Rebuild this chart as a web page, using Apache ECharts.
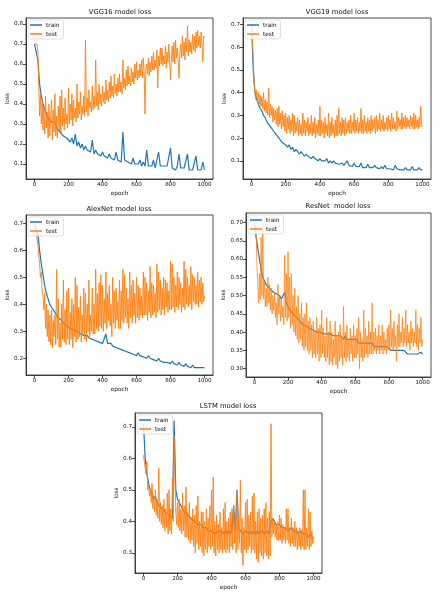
<!DOCTYPE html>
<html><head><meta charset="utf-8">
<script src="https://cdn.jsdelivr.net/npm/echarts@6/dist/echarts.min.js"></script>
<style>html,body{margin:0;padding:0;background:#fff}#c{width:440px;height:600px}</style>
</head><body><div id="c"></div>
<script>
// train series sampled every 10 epochs, test series every 5 epochs
const epochs10 = [0,10,20,30,40,50,60,70,80,90,100,110,120,130,140,150,160,170,180,190,200,210,220,230,240,250,260,270,280,290,300,310,320,330,340,350,360,370,380,390,400,410,420,430,440,450,460,470,480,490,500,510,520,530,540,550,560,570,580,590,600,610,620,630,640,650,660,670,680,690,700,710,720,730,740,750,760,770,780,790,800,810,820,830,840,850,860,870,880,890,900,910,920,930,940,950,960,970,980,990,1000];
const epochs5 = [0,5,10,15,20,25,30,35,40,45,50,55,60,65,70,75,80,85,90,95,100,105,110,115,120,125,130,135,140,145,150,155,160,165,170,175,180,185,190,195,200,205,210,215,220,225,230,235,240,245,250,255,260,265,270,275,280,285,290,295,300,305,310,315,320,325,330,335,340,345,350,355,360,365,370,375,380,385,390,395,400,405,410,415,420,425,430,435,440,445,450,455,460,465,470,475,480,485,490,495,500,505,510,515,520,525,530,535,540,545,550,555,560,565,570,575,580,585,590,595,600,605,610,615,620,625,630,635,640,645,650,655,660,665,670,675,680,685,690,695,700,705,710,715,720,725,730,735,740,745,750,755,760,765,770,775,780,785,790,795,800,805,810,815,820,825,830,835,840,845,850,855,860,865,870,875,880,885,890,895,900,905,910,915,920,925,930,935,940,945,950,955,960,965,970,975,980,985,990,995,1000];
const xTicks = [0,200,400,600,800,1000];

const vgg16Train = [0.70,0.69,0.62,0.50,0.44,0.40,0.37,0.36,0.33,0.34,0.31,0.30,0.31,0.28,0.29,0.26,0.27,0.24,0.25,0.23,0.24,0.21,0.23,0.20,0.25,0.19,0.21,0.18,0.20,0.17,0.19,0.17,0.18,0.16,0.22,0.15,0.17,0.15,0.16,0.14,0.16,0.14,0.15,0.13,0.15,0.13,0.14,0.12,0.16,0.12,0.13,0.11,0.26,0.12,0.12,0.11,0.12,0.10,0.13,0.10,0.11,0.10,0.12,0.09,0.11,0.09,0.17,0.09,0.10,0.09,0.12,0.08,0.09,0.16,0.09,0.08,0.09,0.08,0.09,0.08,0.18,0.08,0.08,0.07,0.09,0.15,0.08,0.07,0.08,0.07,0.15,0.07,0.08,0.07,0.08,0.14,0.07,0.08,0.07,0.11,0.07];
const vgg16Test = [
0.70,0.70,0.69,0.70,0.66,0.50,0.34,0.45,0.30,0.41,
0.27,0.38,0.25,0.44,0.28,0.36,0.23,0.40,0.24,0.33,
0.42,0.22,0.37,0.26,0.45,0.24,0.34,0.23,0.39,0.27,
0.44,0.25,0.47,0.29,0.38,0.27,0.43,0.30,0.35,0.28,
0.48,0.30,0.40,0.32,0.45,0.29,0.42,0.33,0.38,0.31,
0.50,0.33,0.41,0.35,0.46,0.32,0.39,0.35,0.44,0.34,
0.72,0.36,0.43,0.34,0.47,0.38,0.41,0.36,0.49,0.37,
0.44,0.38,0.62,0.39,0.46,0.37,0.50,0.40,0.45,0.39,
0.49,0.41,0.46,0.40,0.52,0.42,0.47,0.41,0.51,0.43,
0.54,0.44,0.49,0.43,0.55,0.45,0.50,0.44,0.53,0.46,
0.55,0.46,0.51,0.45,0.62,0.48,0.53,0.47,0.57,0.49,
0.59,0.50,0.54,0.49,0.58,0.51,0.56,0.50,0.60,0.53,
0.61,0.52,0.57,0.53,0.60,0.54,0.62,0.53,0.63,0.56,
0.35,0.57,0.60,0.55,0.63,0.54,0.61,0.56,0.64,0.57,
0.66,0.57,0.62,0.58,0.67,0.48,0.64,0.59,0.68,0.60,
0.68,0.59,0.64,0.60,0.69,0.58,0.66,0.61,0.70,0.62,
0.52,0.62,0.69,0.61,0.71,0.60,0.72,0.63,0.68,0.62,
0.53,0.65,0.70,0.63,0.74,0.64,0.71,0.62,0.73,0.66,
0.79,0.64,0.72,0.66,0.71,0.65,0.75,0.67,0.74,0.66,
0.76,0.68,0.77,0.69,0.74,0.68,0.76,0.70,0.61,0.74,
0.73];
const vgg16Y = [0.1,0.2,0.3,0.4,0.5,0.6,0.7,0.8];

const vgg19Train = [0.70,0.50,0.40,0.37,0.35,0.33,0.32,0.30,0.29,0.27,0.26,0.25,0.24,0.23,0.22,0.21,0.20,0.19,0.18,0.18,0.17,0.16,0.17,0.15,0.16,0.14,0.15,0.14,0.13,0.14,0.13,0.12,0.13,0.12,0.12,0.11,0.12,0.11,0.11,0.10,0.11,0.10,0.10,0.10,0.11,0.09,0.10,0.09,0.10,0.09,0.09,0.085,0.08,0.09,0.08,0.08,0.10,0.08,0.08,0.075,0.09,0.075,0.08,0.075,0.09,0.07,0.075,0.07,0.085,0.07,0.075,0.07,0.08,0.07,0.07,0.065,0.075,0.065,0.08,0.065,0.07,0.065,0.07,0.06,0.08,0.065,0.07,0.06,0.065,0.06,0.07,0.06,0.065,0.06,0.075,0.06,0.065,0.06,0.07,0.06,0.06];
const vgg19Test = [
0.70,0.62,0.55,0.44,0.40,0.37,0.41,0.36,0.40,0.35,
0.39,0.34,0.38,0.33,0.40,0.32,0.37,0.31,0.36,0.30,
0.42,0.29,0.35,0.30,0.34,0.27,0.33,0.28,0.32,0.26,
0.33,0.25,0.34,0.26,0.31,0.24,0.32,0.25,0.30,0.23,
0.31,0.22,0.29,0.24,0.30,0.22,0.28,0.23,0.31,0.21,
0.30,0.22,0.27,0.23,0.29,0.21,0.28,0.22,0.26,0.21,
0.31,0.22,0.28,0.21,0.27,0.23,0.29,0.21,0.26,0.22,
0.30,0.21,0.27,0.22,0.29,0.20,0.26,0.22,0.28,0.21,
0.34,0.21,0.28,0.22,0.27,0.20,0.29,0.22,0.26,0.21,
0.31,0.20,0.27,0.21,0.29,0.22,0.26,0.20,0.28,0.21,
0.30,0.21,0.33,0.22,0.27,0.21,0.29,0.22,0.28,0.21,
0.29,0.22,0.27,0.23,0.28,0.22,0.30,0.22,0.27,0.23,
0.31,0.22,0.28,0.23,0.29,0.22,0.27,0.23,0.33,0.22,
0.28,0.22,0.30,0.23,0.27,0.22,0.29,0.23,0.28,0.22,
0.30,0.23,0.28,0.24,0.29,0.22,0.30,0.23,0.28,0.24,
0.31,0.23,0.28,0.24,0.30,0.23,0.27,0.24,0.29,0.23,
0.30,0.24,0.28,0.23,0.31,0.24,0.29,0.24,0.27,0.23,
0.32,0.24,0.29,0.25,0.28,0.24,0.31,0.24,0.29,0.25,
0.30,0.24,0.29,0.25,0.28,0.24,0.30,0.25,0.29,0.24,
0.31,0.24,0.30,0.25,0.28,0.24,0.29,0.25,0.34,0.26,
0.25];
const vgg19Y = [0.1,0.2,0.3,0.4,0.5,0.6,0.7];

const alexTrain = [0.70,0.68,0.66,0.60,0.55,0.51,0.47,0.44,0.42,0.40,0.39,0.38,0.37,0.36,0.35,0.345,0.34,0.33,0.33,0.32,0.32,0.31,0.31,0.305,0.30,0.30,0.295,0.29,0.29,0.285,0.28,0.285,0.275,0.28,0.27,0.27,0.265,0.27,0.26,0.265,0.255,0.26,0.29,0.255,0.25,0.255,0.245,0.25,0.24,0.245,0.235,0.24,0.23,0.235,0.225,0.23,0.22,0.225,0.215,0.22,0.21,0.22,0.21,0.215,0.205,0.21,0.20,0.21,0.20,0.205,0.195,0.20,0.19,0.20,0.19,0.195,0.185,0.19,0.185,0.19,0.18,0.19,0.18,0.185,0.175,0.185,0.175,0.18,0.17,0.18,0.17,0.175,0.165,0.175,0.165,0.17,0.165,0.17,0.165,0.17,0.165];
const alexTest = [
0.70,0.68,0.67,0.64,0.62,0.58,0.55,0.50,0.52,0.45,
0.43,0.38,0.44,0.31,0.40,0.28,0.38,0.26,0.36,0.25,
0.38,0.24,0.34,0.28,0.36,0.25,0.53,0.27,0.42,0.24,
0.33,0.24,0.40,0.27,0.49,0.26,0.38,0.25,0.45,0.27,
0.46,0.25,0.37,0.27,0.42,0.24,0.40,0.28,0.50,0.26,
0.47,0.27,0.39,0.28,0.43,0.26,0.36,0.29,0.46,0.27,
0.44,0.26,0.40,0.30,0.49,0.28,0.36,0.30,0.46,0.29,
0.40,0.29,0.53,0.31,0.44,0.30,0.48,0.32,0.51,0.31,
0.47,0.30,0.42,0.33,0.52,0.31,0.44,0.34,0.47,0.32,
0.40,0.28,0.50,0.33,0.45,0.31,0.46,0.34,0.41,0.31,
0.49,0.31,0.45,0.34,0.53,0.33,0.51,0.35,0.46,0.33,
0.42,0.31,0.52,0.35,0.47,0.33,0.49,0.36,0.44,0.33,
0.50,0.35,0.47,0.34,0.46,0.36,0.43,0.35,0.52,0.36,
0.50,0.36,0.48,0.34,0.45,0.37,0.54,0.35,0.48,0.36,
0.47,0.37,0.44,0.35,0.55,0.37,0.52,0.38,0.49,0.36,
0.46,0.38,0.50,0.36,0.49,0.39,0.48,0.37,0.45,0.38,
0.56,0.38,0.55,0.39,0.50,0.37,0.47,0.39,0.52,0.38,
0.50,0.40,0.48,0.37,0.46,0.39,0.56,0.38,0.53,0.40,
0.50,0.39,0.47,0.40,0.54,0.38,0.51,0.41,0.50,0.40,
0.47,0.40,0.52,0.39,0.49,0.41,0.50,0.40,0.48,0.41,
0.43];
const alexY = [0.2,0.3,0.4,0.5,0.6,0.7];

const resTrain = [0.70,0.66,0.63,0.60,0.57,0.55,0.54,0.53,0.525,0.52,0.52,0.51,0.51,0.505,0.50,0.50,0.49,0.49,0.51,0.48,0.47,0.46,0.455,0.45,0.445,0.44,0.435,0.43,0.425,0.42,0.42,0.415,0.42,0.41,0.41,0.405,0.41,0.40,0.405,0.40,0.40,0.395,0.40,0.395,0.39,0.395,0.39,0.39,0.385,0.39,0.385,0.39,0.385,0.38,0.39,0.38,0.385,0.38,0.375,0.38,0.375,0.38,0.37,0.375,0.37,0.375,0.37,0.365,0.37,0.365,0.37,0.36,0.365,0.36,0.365,0.36,0.355,0.36,0.355,0.36,0.355,0.35,0.355,0.35,0.355,0.35,0.345,0.35,0.345,0.35,0.345,0.34,0.345,0.34,0.345,0.34,0.335,0.34,0.335,0.345,0.34];
const resTest = [
0.70,0.70,0.68,0.58,0.53,0.48,0.56,0.49,0.66,0.50,
0.70,0.49,0.54,0.47,0.52,0.47,0.55,0.48,0.53,0.46,
0.52,0.45,0.50,0.46,0.51,0.44,0.48,0.42,0.53,0.45,
0.50,0.43,0.49,0.44,0.47,0.42,0.61,0.44,0.56,0.43,
0.62,0.44,0.55,0.41,0.56,0.42,0.50,0.40,0.52,0.39,
0.47,0.38,0.50,0.37,0.45,0.38,0.48,0.36,0.44,0.35,
0.45,0.36,0.48,0.35,0.43,0.34,0.44,0.35,0.42,0.33,
0.43,0.34,0.40,0.33,0.44,0.34,0.41,0.32,0.42,0.33,
0.46,0.34,0.41,0.33,0.39,0.32,0.44,0.33,0.40,0.31,
0.43,0.32,0.40,0.31,0.38,0.33,0.43,0.31,0.39,0.30,
0.40,0.32,0.42,0.33,0.39,0.31,0.47,0.33,0.40,0.32,
0.42,0.33,0.38,0.32,0.41,0.34,0.39,0.32,0.42,0.33,
0.39,0.33,0.41,0.34,0.44,0.30,0.40,0.33,0.38,0.32,
0.46,0.33,0.41,0.34,0.39,0.33,0.43,0.34,0.40,0.34,
0.48,0.34,0.40,0.35,0.41,0.34,0.39,0.35,0.42,0.34,
0.39,0.35,0.42,0.34,0.40,0.35,0.38,0.34,0.41,0.35,
0.42,0.35,0.46,0.36,0.41,0.35,0.43,0.36,0.39,0.32,
0.42,0.36,0.45,0.36,0.40,0.37,0.44,0.36,0.41,0.37,
0.46,0.36,0.42,0.37,0.40,0.35,0.43,0.37,0.41,0.36,
0.40,0.37,0.46,0.36,0.42,0.35,0.41,0.37,0.44,0.36,
0.38];
const resY = [0.30,0.35,0.40,0.45,0.50,0.55,0.60,0.65,0.70];

const lstmTrain = [0.71,0.60,0.55,0.52,0.50,0.49,0.47,0.48,0.46,0.45,0.45,0.44,0.44,0.43,0.43,0.42,0.42,0.41,0.72,0.50,0.47,0.46,0.45,0.44,0.43,0.43,0.42,0.42,0.41,0.41,0.40,0.40,0.39,0.39,0.39,0.38,0.38,0.38,0.37,0.37,0.37,0.37,0.36,0.36,0.37,0.37,0.37,0.36,0.37,0.36,0.37,0.36,0.37,0.45,0.37,0.50,0.38,0.37,0.37,0.36,0.37,0.37,0.36,0.37,0.36,0.37,0.36,0.37,0.36,0.36,0.37,0.36,0.36,0.37,0.36,0.40,0.41,0.40,0.39,0.39,0.39,0.38,0.38,0.38,0.38,0.37,0.37,0.38,0.37,0.37,0.37,0.36,0.36,0.37,0.36,0.36,0.36,0.35,0.36,0.35,0.35];
const lstmTest = [
0.61,0.59,0.57,0.55,0.59,0.50,0.52,0.48,0.50,0.46,
0.52,0.44,0.48,0.43,0.50,0.42,0.47,0.41,0.57,0.40,
0.46,0.39,0.45,0.38,0.47,0.37,0.44,0.38,0.49,0.36,
0.50,0.37,0.44,0.36,0.54,0.40,0.67,0.55,0.43,0.39,
0.46,0.38,0.47,0.37,0.44,0.36,0.49,0.37,0.45,0.35,
0.51,0.35,0.43,0.34,0.46,0.33,0.41,0.34,0.44,0.32,
0.42,0.30,0.45,0.33,0.48,0.31,0.40,0.32,0.43,0.30,
0.43,0.29,0.40,0.31,0.44,0.30,0.41,0.32,0.45,0.31,
0.50,0.32,0.54,0.30,0.40,0.29,0.42,0.31,0.39,0.30,
0.43,0.31,0.38,0.30,0.44,0.31,0.46,0.30,0.40,0.31,
0.41,0.30,0.43,0.32,0.44,0.31,0.45,0.33,0.42,0.30,
0.49,0.31,0.42,0.33,0.53,0.30,0.41,0.26,0.38,0.31,
0.46,0.30,0.47,0.31,0.42,0.32,0.43,0.30,0.48,0.31,
0.49,0.30,0.40,0.28,0.43,0.27,0.44,0.30,0.41,0.29,
0.42,0.28,0.44,0.30,0.46,0.29,0.41,0.28,0.43,0.29,
0.71,0.35,0.41,0.36,0.40,0.35,0.39,0.34,0.40,0.34,
0.42,0.34,0.41,0.33,0.39,0.34,0.38,0.33,0.44,0.34,
0.44,0.33,0.38,0.32,0.41,0.33,0.38,0.32,0.40,0.32,
0.38,0.31,0.37,0.32,0.38,0.31,0.37,0.32,0.50,0.31,
0.50,0.31,0.38,0.32,0.44,0.31,0.43,0.32,0.37,0.33,
0.35];
const lstmY = [0.3,0.4,0.5,0.6,0.7];

const panels = [
  {title:'VGG16 model loss', train:vgg16Train, test:vgg16Test, yTicks:vgg16Y, dec:1, ymin:0.025, ymax:0.83, grid:{left:26,top:18,width:187,height:161}, tx:120, ty:9, testOpacity:1},
  {title:'VGG19 model loss', train:vgg19Train, test:vgg19Test, yTicks:vgg19Y, dec:1, ymin:0.02, ymax:0.728, grid:{left:243,top:18,width:188,height:161}, tx:337, ty:9, testOpacity:1},
  {title:'AlexNet model loss', train:alexTrain, test:alexTest, yTicks:alexY, dec:1, ymin:0.138, ymax:0.731, grid:{left:26,top:215,width:187,height:160}, tx:119, ty:206, testOpacity:1},
  {title:'ResNet  model loss', train:resTrain, test:resTest, yTicks:resY, dec:2, ymin:0.277, ymax:0.726, grid:{left:246,top:213,width:185,height:164}, tx:338, ty:203, testOpacity:0.85},
  {title:'LSTM model loss', train:lstmTrain, test:lstmTest, yTicks:lstmY, dec:1, ymin:0.236, ymax:0.744, grid:{left:135,top:413,width:187,height:160}, tx:228, ty:403, testOpacity:1}
];

const FONT = 'DejaVu Sans';
const axisColor = '#222';
const textColor = '#111';
const option = {
  animation:false,
  backgroundColor:'#fff',
  title:[], grid:[], xAxis:[], yAxis:[], series:[], legend:[]
};
panels.forEach((p,i)=>{
  option.grid.push(Object.assign({show:true, borderColor:axisColor, borderWidth:0.8, backgroundColor:'#fff'}, p.grid));
  option.title.push({text:p.title, left:p.tx, top:p.ty, textAlign:'center', padding:0,
    textStyle:{fontFamily:FONT, fontSize:6.8, fontWeight:'normal', color:textColor}});
  option.xAxis.push({type:'value', gridIndex:i, min:-50, max:1050,
    name:'epoch', nameLocation:'middle', nameGap:11, nameTextStyle:{fontFamily:FONT,fontSize:5.8,color:textColor},
    axisLine:{show:true, onZero:false, lineStyle:{color:axisColor, width:0.8}},
    axisTick:{show:true, length:3, customValues:xTicks, lineStyle:{color:axisColor, width:0.8}},
    axisLabel:{customValues:xTicks, fontFamily:FONT, fontSize:5.6, color:textColor, margin:3,
      formatter:(v)=>String(Math.round(v))},
    splitLine:{show:false}});
  option.yAxis.push({type:'value', gridIndex:i, min:p.ymin, max:p.ymax,
    name:'loss', nameLocation:'middle', nameGap: p.dec===2?17:12, nameRotate:90, nameTextStyle:{fontFamily:FONT,fontSize:5.8,color:textColor},
    axisLine:{show:true, onZero:false, lineStyle:{color:axisColor, width:0.8}},
    axisTick:{show:true, length:3, customValues:p.yTicks, lineStyle:{color:axisColor, width:0.8}},
    axisLabel:{customValues:p.yTicks, fontFamily:FONT, fontSize:5.6, color:textColor, margin:3,
      formatter:(v)=>Number(v).toFixed(p.dec)},
    splitLine:{show:false}});
  option.series.push({type:'line', name:'train', xAxisIndex:i, yAxisIndex:i, showSymbol:false, symbol:'none',
    data:epochs10.map((e,k)=>[e,p.train[k]]), lineStyle:{color:'#1f77b4', width:1.2}, itemStyle:{color:'#1f77b4'}, z:2});
  option.series.push({type:'line', name:'test', xAxisIndex:i, yAxisIndex:i, showSymbol:false, symbol:'none',
    data:epochs5.map((e,k)=>[e,p.test[k]]), lineStyle:{color:'#ff7f0e', width:0.9, opacity:p.testOpacity}, itemStyle:{color:'#ff7f0e'}, z:3});
  option.legend.push({left:p.grid.left+2, top:p.grid.top+2, orient:'vertical', data:['train','test'],
    icon:'rect', itemWidth:12, itemHeight:1.5, itemGap:3, padding:[2,4,2,2],
    borderColor:'#ccc', borderWidth:0.6, borderRadius:2, backgroundColor:'rgba(255,255,255,0.8)',
    textStyle:{fontFamily:FONT, fontSize:5.8, color:textColor, padding:[0,0,0,-1]}, selectedMode:false});
});
const chart = echarts.init(document.getElementById('c'), null, {renderer:'canvas'});
chart.setOption(option);
</script>
</body></html>
